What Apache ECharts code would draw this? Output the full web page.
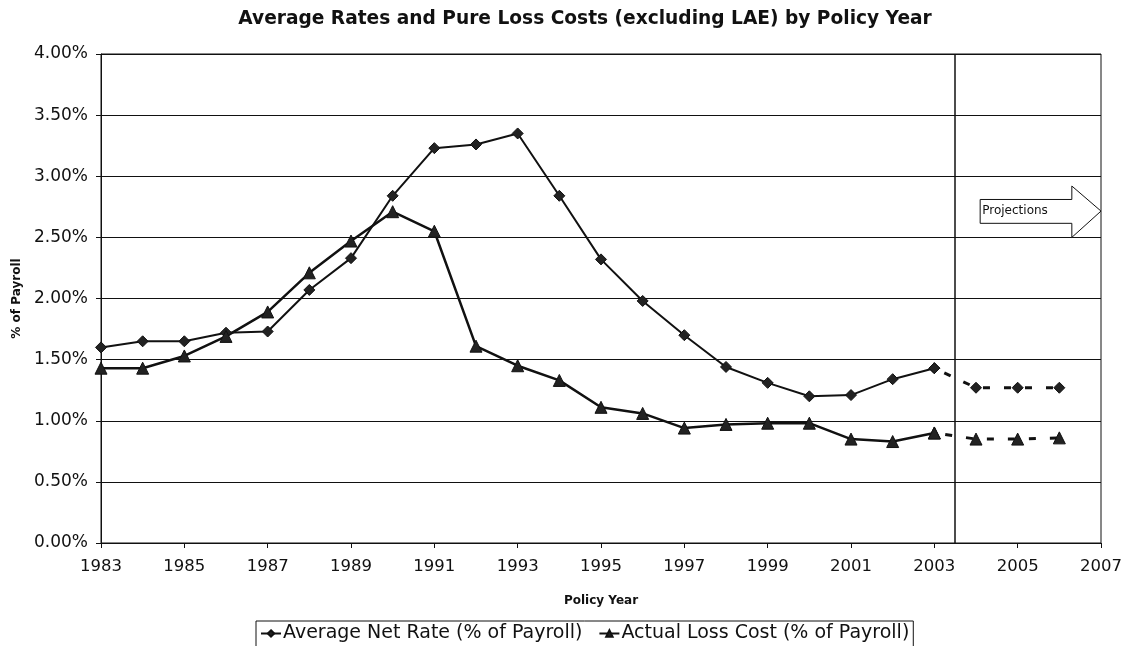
<!DOCTYPE html>
<html>
<head>
<meta charset="utf-8">
<script src="https://cdn.jsdelivr.net/npm/echarts@6/dist/echarts.min.js"></script>
<style>
  html, body { margin: 0; padding: 0; background: #fff; }
  #chart { width: 1123px; height: 646px; }
</style>
</head>
<body>
<div id="chart"></div>
<script>
// Policy years with reported values (actual experience)
const years = [1983, 1984, 1985, 1986, 1987, 1988, 1989, 1990, 1991, 1992, 1993,
  1994, 1995, 1996, 1997, 1998, 1999, 2000, 2001, 2002, 2003];
// Average net rate, % of payroll
const netRate = [1.60, 1.65, 1.65, 1.72, 1.73, 2.07, 2.33, 2.84, 3.23, 3.26, 3.35,
  2.84, 2.32, 1.98, 1.70, 1.44, 1.31, 1.20, 1.21, 1.34, 1.43];
// Actual loss cost, % of payroll
const lossCost = [1.43, 1.43, 1.53, 1.69, 1.89, 2.21, 2.47, 2.71, 2.55, 1.61, 1.45,
  1.33, 1.11, 1.06, 0.94, 0.97, 0.98, 0.98, 0.85, 0.83, 0.90];

// Projected years (first entry links back to the last actual year)
const projYears = [2003, 2004, 2005, 2006];
const projNetRate = [1.43, 1.27, 1.27, 1.27];
const projLossCost = [0.90, 0.85, 0.85, 0.86];

// Boundary between actual and projected experience
const projectionStart = 2003.5;

const yTicks = { min: 0, max: 4, step: 0.5 };
const xTicks = { min: 1983, max: 2007, step: 2 };

const nameNet = 'Average Net Rate (% of Payroll)';
const nameLoss = 'Actual Loss Cost (% of Payroll)';

const pairs = (xs, ys) => xs.map((x, i) => [x, ys[i]]);

const FONT = '"DejaVu Sans", "Liberation Sans", Arial, sans-serif';
const INK = '#111';

const chart = echarts.init(document.getElementById('chart'), null, { renderer: 'canvas' });

const option = {
  backgroundColor: '#fff',
  animation: false,
  textStyle: { fontFamily: FONT, color: INK },
  title: {
    text: 'Average Rates and Pure Loss Costs (excluding LAE) by Policy Year',
    left: 580, top: 5, textAlign: 'center',
    textStyle: { fontFamily: FONT, fontSize: 18.6, fontWeight: 'bold', color: INK }
  },
  grid: {
    left: 101, right: 22, top: 54, bottom: 103,
    outerBoundsMode: 'none', containLabel: false,
    show: true, borderColor: INK, borderWidth: 1
  },
  legend: {
    data: [nameNet, nameLoss],
    left: 256, top: 621,
    itemGap: 16, itemWidth: 20, itemHeight: 8,
    padding: [3, 4, 10, 4],
    borderColor: INK, borderWidth: 1, borderRadius: 0,
    textStyle: { fontFamily: FONT, fontSize: 19, color: INK, padding: [0, 0, 0, -3] }
  },
  xAxis: {
    type: 'value', min: xTicks.min, max: xTicks.max, interval: xTicks.step,
    name: 'Policy Year', nameLocation: 'middle', nameGap: 52,
    nameTextStyle: { fontFamily: FONT, fontSize: 12, fontWeight: 'bold', color: INK },
    axisLine: { show: true, lineStyle: { color: INK, width: 1 } },
    axisTick: { show: true, inside: false, length: 5, lineStyle: { color: INK } },
    axisLabel: { fontFamily: FONT, fontSize: 16.5, color: INK, margin: 15, formatter: v => String(v) },
    splitLine: { show: false }
  },
  yAxis: {
    type: 'value', min: yTicks.min, max: yTicks.max, interval: yTicks.step,
    name: '% of Payroll', nameLocation: 'middle', nameGap: 77, nameRotate: 90,
    nameTextStyle: { fontFamily: FONT, fontSize: 12, fontWeight: 'bold', color: INK },
    axisLine: { show: true, lineStyle: { color: INK, width: 1 } },
    axisTick: { show: true, inside: false, length: 5, lineStyle: { color: INK } },
    axisLabel: { fontFamily: FONT, fontSize: 17, color: INK, margin: 13, formatter: v => v.toFixed(2) + '%' },
    splitLine: { show: true, lineStyle: { color: INK, width: 1 } }
  },
  series: [
    {
      name: nameNet, type: 'line', data: pairs(years, netRate),
      symbol: 'diamond', symbolSize: 11,
      lineStyle: { color: INK, width: 2 },
      itemStyle: { color: '#222', borderColor: INK, borderWidth: 1 },
      z: 3,
      markLine: {
        silent: true, symbol: 'none', label: { show: false },
        lineStyle: { color: INK, width: 1.5, type: 'solid' },
        data: [{ xAxis: projectionStart }]
      }
    },
    {
      name: nameLoss, type: 'line', data: pairs(years, lossCost),
      symbol: 'triangle', symbolSize: 12,
      lineStyle: { color: INK, width: 2.5 },
      itemStyle: { color: '#222', borderColor: INK, borderWidth: 1 },
      z: 3
    },
    {
      name: nameNet + ' projected', type: 'line', data: pairs(projYears, projNetRate),
      symbol: 'diamond', symbolSize: 11,
      lineStyle: { color: INK, width: 3, type: [7, 14], dashOffset: 10 },
      itemStyle: { color: '#222', borderColor: INK, borderWidth: 1 },
      z: 2
    },
    {
      name: nameLoss + ' projected', type: 'line', data: pairs(projYears, projLossCost),
      symbol: 'triangle', symbolSize: 12,
      lineStyle: { color: INK, width: 3, type: [7, 14], dashOffset: 10 },
      itemStyle: { color: '#222', borderColor: INK, borderWidth: 1 },
      z: 2
    }
  ]
};

chart.setOption(option);

// "Projections" arrow callout, anchored in data space to the right of the boundary
const arrowPts = [
  [2004.1, 2.81], [2006.3, 2.81], [2006.3, 2.92], [2007, 2.715],
  [2006.3, 2.50], [2006.3, 2.615], [2004.1, 2.615]
].map(p => chart.convertToPixel({ gridIndex: 0 }, p));
const labelAt = chart.convertToPixel({ gridIndex: 0 }, [2004.15, 2.715]);

chart.setOption({
  graphic: [
    {
      type: 'polygon', z: 10,
      shape: { points: arrowPts },
      style: { fill: '#fff', stroke: INK, lineWidth: 1 }
    },
    {
      type: 'text', z: 11, x: labelAt[0], y: labelAt[1],
      style: { text: 'Projections', font: '12px ' + FONT, fill: INK, verticalAlign: 'middle' }
    }
  ]
});
</script>
</body>
</html>
